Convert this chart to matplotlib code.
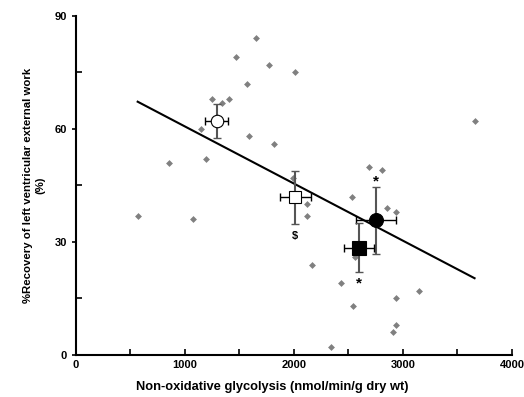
import numpy as np
import matplotlib
matplotlib.use("Agg")
import matplotlib.pyplot as plt
from matplotlib.ticker import MultipleLocator

plt.rcParams["font.family"] = ["Liberation Sans", "DejaVu Sans"]

# individual hearts (nmol/min/g dry wt, % recovery)
gly = [566, 850, 1076, 1147, 1193, 1245, 1336, 1404, 1465, 1566, 1584, 1651,
       1771, 1813, 1988, 2009, 2116, 2116, 2168, 2339, 2428, 2535, 2538, 2560,
       2685, 2804, 2850, 2911, 2933, 2939, 2939, 3147, 3657]
rec = [37, 51, 36, 60, 52, 68, 67, 68, 79, 72, 58, 84,
       77, 56, 47, 75, 40, 37, 24, 2, 19, 42, 13, 26,
       50, 49, 39, 6, 38, 15, 8, 17, 62]

# regression line
slope = -0.01516
intercept = 75.8

# group means
grp_x = [1291, 2012, 2752, 2596]
grp_y = [62.1, 41.8, 35.7, 28.5]
grp_xerr = [108, 144, 187, 141]
grp_yerr = [4.5, 7.0, 9.0, 6.4]
grp_marker = ["o", "s", "o", "s"]
grp_face = ["white", "white", "black", "black"]
grp_size = [9, 9, 10, 9.5]

# significance marks
sig_text = ["$", "*", "*"]
sig_x = [2012, 2752, 2596]
sig_y = [31.5, 46.0, 19.0]

fig = plt.figure(figsize=(5.24, 3.97), dpi=100)
ax = fig.add_axes([0.145, 0.106, 0.832, 0.854])

ax.plot(gly, rec, "D", color="#808080", markersize=3.5, markeredgewidth=0, zorder=2)

xs = np.array([min(gly), max(gly)])
ax.plot(xs, slope * xs + intercept, color="black", lw=1.5, zorder=3)

for x, y, xe, ye, m, fc, ms in zip(grp_x, grp_y, grp_xerr, grp_yerr,
                                   grp_marker, grp_face, grp_size):
    ax.errorbar(x, y, yerr=ye, fmt="none", ecolor="#555555", elinewidth=1.5,
                capsize=3, capthick=1, zorder=4)
    ax.errorbar(x, y, xerr=xe, fmt="none", ecolor="black", elinewidth=1,
                capsize=3, capthick=1, zorder=4)
    ax.plot(x, y, m, markerfacecolor=fc, markeredgecolor="black",
            markersize=ms, markeredgewidth=0.8, zorder=5)

for t, x, y in zip(sig_text, sig_x, sig_y):
    ax.text(x, y, t, ha="center", va="center",
            fontsize=8 if t == "$" else 11, fontweight="bold")

ax.set_xlim(0, 4000)
ax.set_ylim(0, 90)
ax.xaxis.set_major_locator(MultipleLocator(1000))
ax.xaxis.set_minor_locator(MultipleLocator(500))
ax.yaxis.set_major_locator(MultipleLocator(30))
ax.yaxis.set_minor_locator(MultipleLocator(15))

for s in ["top", "right"]:
    ax.spines[s].set_visible(False)
for s in ["left", "bottom"]:
    ax.spines[s].set_linewidth(1.5)

ax.tick_params(axis="x", which="both", direction="in", length=4, width=1.2)
ax.tick_params(axis="y", which="major", direction="out", length=3, width=1.2)
ax.tick_params(axis="y", which="minor", direction="in", length=4, width=1.2)
ax.tick_params(labelsize=8)
for lab in ax.get_xticklabels() + ax.get_yticklabels():
    lab.set_fontweight("bold")

ax.set_xlabel("Non-oxidative glycolysis (nmol/min/g dry wt)", fontsize=9.3,
              fontweight="bold")
ax.xaxis.set_label_coords(0.45, -0.076)
ax.set_ylabel("%Recovery of left ventricular external work\n(%)", fontsize=8.2,
              fontweight="bold", linespacing=1.3)
ax.yaxis.set_label_coords(-0.071, 0.5)

fig.savefig("out.png", dpi=100)
